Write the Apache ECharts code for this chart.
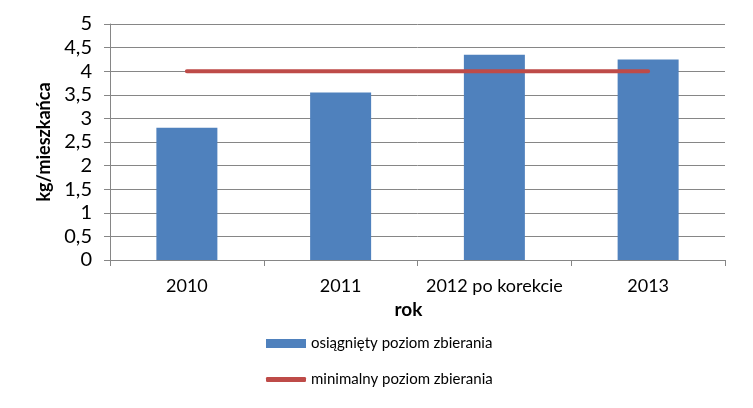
<!DOCTYPE html>
<html><head><meta charset="utf-8">
<script src="https://cdn.jsdelivr.net/npm/echarts@6/dist/echarts.min.js"></script>
<style>html,body{margin:0;padding:0;background:#fff}#c{width:753px;height:408px}</style>
</head><body><div id="c"></div>
<script>
var categories = ['2010', '2011', '2012 po korekcie', '2013'];
var achieved = [2.8, 3.55, 4.35, 4.25];
var minimum = [4, 4, 4, 4];
var yTicks = [0, 0.5, 1, 1.5, 2, 2.5, 3, 3.5, 4, 4.5, 5];
var seriesNames = ['osiągnięty poziom zbierania', 'minimalny poziom zbierania'];
var axisNames = { x: 'rok', y: 'kg/mieszkańca' };

var font = 'Lato, "Open Sans", sans-serif';
var gridColor = '#868686';
var chart = echarts.init(document.getElementById('c'), null, { renderer: 'canvas' });
chart.setOption({
  animation: false,
  backgroundColor: '#fff',
  grid: { left: 110, right: 28, top: 24, bottom: 148, containLabel: false },
  legend: [
    { data: [seriesNames[0]], orient: 'vertical', left: 261, top: 331, itemWidth: 40, itemHeight: 9, icon: 'rect',
      textStyle: { fontFamily: font, fontSize: 15, color: '#000' } },
    { data: [seriesNames[1]], orient: 'vertical', left: 261, top: 367, itemWidth: 40, itemHeight: 5, icon: 'roundRect',
      textStyle: { fontFamily: font, fontSize: 15, color: '#000' } }
  ],
  xAxis: {
    type: 'category', data: categories, boundaryGap: true,
    name: axisNames.x, nameLocation: 'middle', nameGap: 38,
    nameTextStyle: { fontFamily: font, fontSize: 19, fontWeight: 'bold', color: '#000', padding: [0, 18, 0, 0] },
    axisLine: { show: true, lineStyle: { color: gridColor, width: 1 } },
    axisTick: { show: true, length: 6, alignWithLabel: false, lineStyle: { color: gridColor } },
    axisLabel: { fontFamily: font, fontSize: 18, color: '#000', margin: 17, interval: 0 }
  },
  yAxis: {
    type: 'value', min: 0, max: 5, interval: 0.5,
    name: axisNames.y, nameLocation: 'middle', nameGap: 53, nameRotate: 90,
    nameTextStyle: { fontFamily: font, fontSize: 18, fontWeight: 'bold', color: '#000' },
    axisLine: { show: true, lineStyle: { color: gridColor, width: 1 } },
    axisTick: { show: true, length: 6, lineStyle: { color: gridColor } },
    splitLine: { show: true, lineStyle: { color: gridColor, width: 1 } },
    axisLabel: { fontFamily: font, fontSize: 20, color: '#000', margin: 18,
      formatter: function (v) { return yTicks.indexOf(v) >= 0 ? String(v).replace('.', ',') : ''; } }
  },
  series: [
    { name: seriesNames[0], type: 'bar', data: achieved, barWidth: 61,
      itemStyle: { color: '#4F81BD' } },
    { name: seriesNames[1], type: 'line', data: minimum, symbol: 'none',
      lineStyle: { color: '#BE4B48', width: 4, cap: 'round' }, itemStyle: { color: '#BE4B48' } }
  ]
});
</script></body></html>
